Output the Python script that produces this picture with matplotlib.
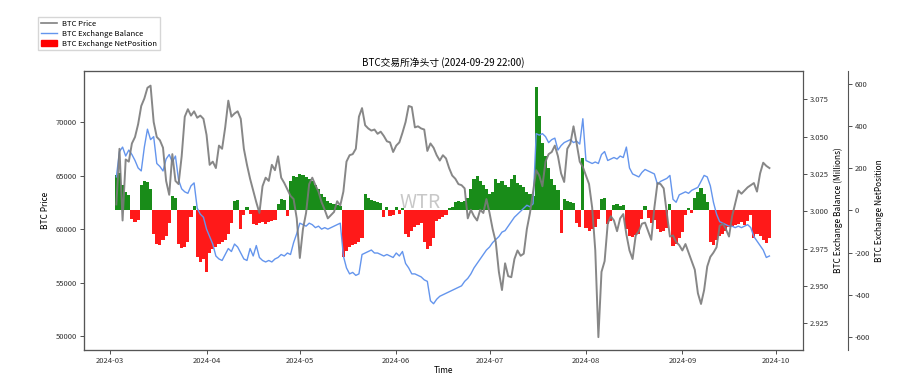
import numpy as np
import pandas as pd
import matplotlib
matplotlib.use('Agg')
import matplotlib.pyplot as plt
import matplotlib.dates as mdates
from matplotlib.patches import Patch

plt.rcParams['font.family'] = ['Noto Sans CJK SC', 'DejaVu Sans']
plt.rcParams['axes.unicode_minus'] = False

# daily values, 2024-03-03 .. 2024-09-29
dates = pd.date_range('2024-03-03', '2024-09-29', freq='D')

price = [
    62300, 67500, 60800, 66500, 66300, 68000, 68600, 69800, 71500, 72200, 73200, 73400, 70000, 68600, 68300,
    67600, 64500, 63200, 67000, 64500, 64200, 66800, 70500, 71200, 70600, 71000, 70400, 70600, 70300,
    68800, 66000, 66300, 65700, 67800, 67500, 69500, 72000, 70500, 70800, 71000, 70300, 67500, 66000, 64700,
    63600, 62500, 61500, 64000, 64800, 64500, 66000, 65500, 66800, 64800, 64300, 63700, 63100, 62800, 61000,
    57300, 60000, 61500, 64200, 64800, 64100, 63500, 62500, 61800, 61000, 61300, 61600, 62600, 62200, 63500,
    66300, 66900, 67000, 67500, 70500, 71300, 69700, 69400, 69200, 69300, 68900, 69100, 68700, 68200, 68100, 67200,
    67800, 68100, 69000, 70000, 71500, 71400, 69500, 69600, 69400, 69300, 67300, 68000, 67600, 66900, 66400,
    66900, 66600, 65700, 65000, 64700, 64200, 64100, 63800, 61000, 61800, 61200, 60800, 61800, 61500, 62800,
    61500, 60000, 58800, 56000, 54300, 56800, 55600, 55500, 57200, 58000, 57500, 57700, 60000, 61500, 63500,
    65500, 65000, 64000, 66300, 67000, 67200, 67800, 66800, 65200, 64400, 67500, 68000, 69600, 68000, 66300, 65800,
    65000, 64200, 62000, 58000, 49900, 56000, 57000, 60500, 61200, 60800, 59800, 61000, 61400, 59500, 58000,
    57200, 59400, 59800, 60500, 60600, 59800, 59000, 62000, 64300, 64200, 63800, 61500, 59300, 59400, 58800, 58500,
    58000, 58600, 57800, 57000, 56200, 54000, 53000, 54300, 56500, 57400, 57800, 58300, 60300, 60500, 60000,
    59300, 61200, 62400, 63600, 63300, 63600, 63900, 64100, 64300, 63500, 65200, 66200, 65900, 65700,
]

balance = [
    3.023, 3.040, 3.043, 3.037, 3.041, 3.038, 3.034, 3.029, 3.027, 3.043, 3.055, 3.048, 3.050, 3.032, 3.030,
    3.027, 3.035, 3.038, 3.033, 3.037, 3.021, 3.015, 3.013, 3.012, 3.017, 3.019, 3.002, 2.998, 2.996,
    2.988, 2.983, 2.978, 2.970, 2.968, 2.967, 2.971, 2.975, 2.973, 2.978, 2.976, 2.972, 2.968, 2.967, 2.975,
    2.970, 2.977, 2.969, 2.967, 2.966, 2.967, 2.966, 2.968, 2.969, 2.971, 2.970, 2.972, 2.971, 2.979, 2.985,
    2.992, 2.991, 2.990, 2.992, 2.991, 2.989, 2.990, 2.988, 2.989, 2.988, 2.989, 2.990, 2.991, 2.992, 2.970,
    2.962, 2.958, 2.959, 2.957, 2.958, 2.971, 2.972, 2.973, 2.974, 2.972, 2.972, 2.971, 2.970, 2.971, 2.970, 2.969,
    2.972, 2.970, 2.973, 2.965, 2.962, 2.958, 2.958, 2.957, 2.956, 2.954, 2.953, 2.940, 2.938, 2.941, 2.943,
    2.944, 2.945, 2.946, 2.947, 2.948, 2.949, 2.950, 2.953, 2.955, 2.958, 2.962, 2.965, 2.968, 2.971, 2.974,
    2.976, 2.979, 2.981, 2.983, 2.986, 2.987, 2.990, 2.993, 2.996, 2.998, 3.000, 3.002, 3.004, 3.003, 3.005,
    3.052, 3.051, 3.052, 3.050, 3.046, 3.048, 3.049, 3.041, 3.044, 3.046, 3.047, 3.048, 3.046, 3.047, 3.045, 3.062,
    3.034, 3.033, 3.032, 3.033, 3.032, 3.038, 3.040, 3.034, 3.035, 3.036, 3.035, 3.037, 3.036, 3.043, 3.029,
    3.025, 3.024, 3.023, 3.026, 3.028, 3.027, 3.026, 3.025, 3.018, 3.020, 3.021, 3.022, 3.024, 3.008, 3.006, 3.011,
    3.012, 3.013, 3.012, 3.014, 3.015, 3.016, 3.020, 3.024, 3.023, 3.017, 3.006, 2.998, 2.993, 2.992, 2.991,
    2.990, 2.990, 2.989, 2.990, 2.989, 2.990, 2.991, 2.989, 2.983, 2.980, 2.977, 2.974, 2.969, 2.970,
]

net = [
    170, 180, 120, 90, 75, -40, -55, -45, 120, 140, 135, 100, -110, -160, -165,
    -140, -120, -60, 70, 60, -160, -180, -175, -150, -30, 20, -220, -245, -230,
    -290, -200, -185, -175, -160, -150, -140, -110, -60, 45, 50, -90, -20, 15, -15,
    -65, -70, -60, -55, -65, -55, -50, -45, 30, 55, 50, -25, 140, 165, 160,
    175, 170, 160, 150, 140, 120, 100, 80, 65, 45, 35, 30, 25, 20, -220,
    -190, -175, -165, -160, -150, -130, 80, 60, 50, 45, 40, 35, -30, 15, -25, -20,
    15, -15, 10, -110, -125, -95, -80, -70, -60, -150, -185, -170, -130, -50, -40,
    -30, -20, 10, 15, 40, 45, 40, 45, 60, 100, 150, 165, 140, 120, 100,
    80, 90, 150, 130, 140, 120, 110, 150, 170, 130, 120, 110, 90, 80, 70,
    585, 450, 320, 260, 200, 150, 120, 95, -105, 55, 45, 40, 35, -60, -80, 250,
    -85, -95, -90, -80, -40, 55, 60, -65, -50, 25, 30, 20, 25, -90, -120,
    -125, -115, -110, -40, 20, -35, -60, -45, -90, -100, -95, -85, 30, -170, -160, -130,
    -100, -20, 10, -10, 60, 90, 105, 80, 40, -150, -165, -140, -120, -110, -95,
    -80, -75, -70, -65, -55, -70, -50, -20, -130, -110, -120, -140, -155, -130,
]

price_ticks = [50000, 55000, 60000, 65000, 70000]
balance_ticks = [2.925, 2.950, 2.975, 3.000, 3.025, 3.050, 3.075]
net_ticks = [-600, -400, -200, 0, 200, 400, 600]

fs = 6
spine_c = '#555555'

fig = plt.figure(figsize=(8.98, 3.86), dpi=100)
ax = fig.add_axes([0.0935, 0.0933, 0.8007, 0.7228])
ax2 = ax.twinx()
ax3 = ax.twinx()
ax3.spines['right'].set_position(('outward', 32.4))

net_arr = np.array(net)
bar_colors = np.where(net_arr >= 0, 'green', 'red')
ax3.bar(dates, net_arr, width=1.0, color=bar_colors, linewidth=0, alpha=0.9)
ax2.plot(dates, balance, color='cornflowerblue', lw=1)
ax.plot(dates, price, color='#7a7a7a', lw=1.4, alpha=0.9)

ax.set_zorder(3)
ax.patch.set_visible(False)
ax2.set_zorder(2)
ax2.patch.set_visible(False)
ax3.set_zorder(1)

ax.set_xlim(pd.Timestamp('2024-02-21 14:00'), pd.Timestamp('2024-10-09 19:00'))
ax.set_ylim(48700, 74770)
ax2.set_ylim(2.907, 3.094)
ax3.set_ylim(-662, 662)

ax.set_yticks(price_ticks)
ax2.set_yticks(balance_ticks)
ax2.set_yticklabels([f'{v:.3f}' for v in balance_ticks])
ax3.set_yticks(net_ticks)

ax.xaxis.set_major_locator(mdates.MonthLocator())
ax.xaxis.set_major_formatter(mdates.DateFormatter('%Y-%m'))

for a in (ax, ax2, ax3):
    a.tick_params(labelsize=5.5, length=3, width=0.6, pad=2, colors='#333333')
    for s in a.spines.values():
        s.set_color(spine_c)
        s.set_linewidth(0.8)

ax.set_xlabel('Time', fontsize=fs, labelpad=1)
ax.set_ylabel('BTC Price', fontsize=fs, labelpad=4)
ax2.set_ylabel('BTC Exchange Balance (Millions)', fontsize=fs, labelpad=3)
ax3.set_ylabel('BTC Exchange NetPosition', fontsize=fs, labelpad=3)
ax.set_title('BTC交易所净头寸 (2024-09-29 22:00)', fontsize=7, pad=4)

ax.text(0.468, 0.53, 'WTR', transform=ax.transAxes, fontsize=14, color='#c8c8c8',
        ha='center', va='center')

handles = [
    plt.Line2D([], [], color='gray', lw=1.2),
    plt.Line2D([], [], color='cornflowerblue', lw=1),
    Patch(color='red'),
]
fig.legend(handles, ['BTC Price', 'BTC Exchange Balance', 'BTC Exchange NetPosition'],
           loc='upper left', bbox_to_anchor=(0.038, 0.965), fontsize=5.5,
           labelspacing=0.25, borderpad=0.35, handlelength=2.2, handletextpad=0.6,
           fancybox=False, edgecolor='#cccccc')

fig.savefig('out.png', dpi=100)
